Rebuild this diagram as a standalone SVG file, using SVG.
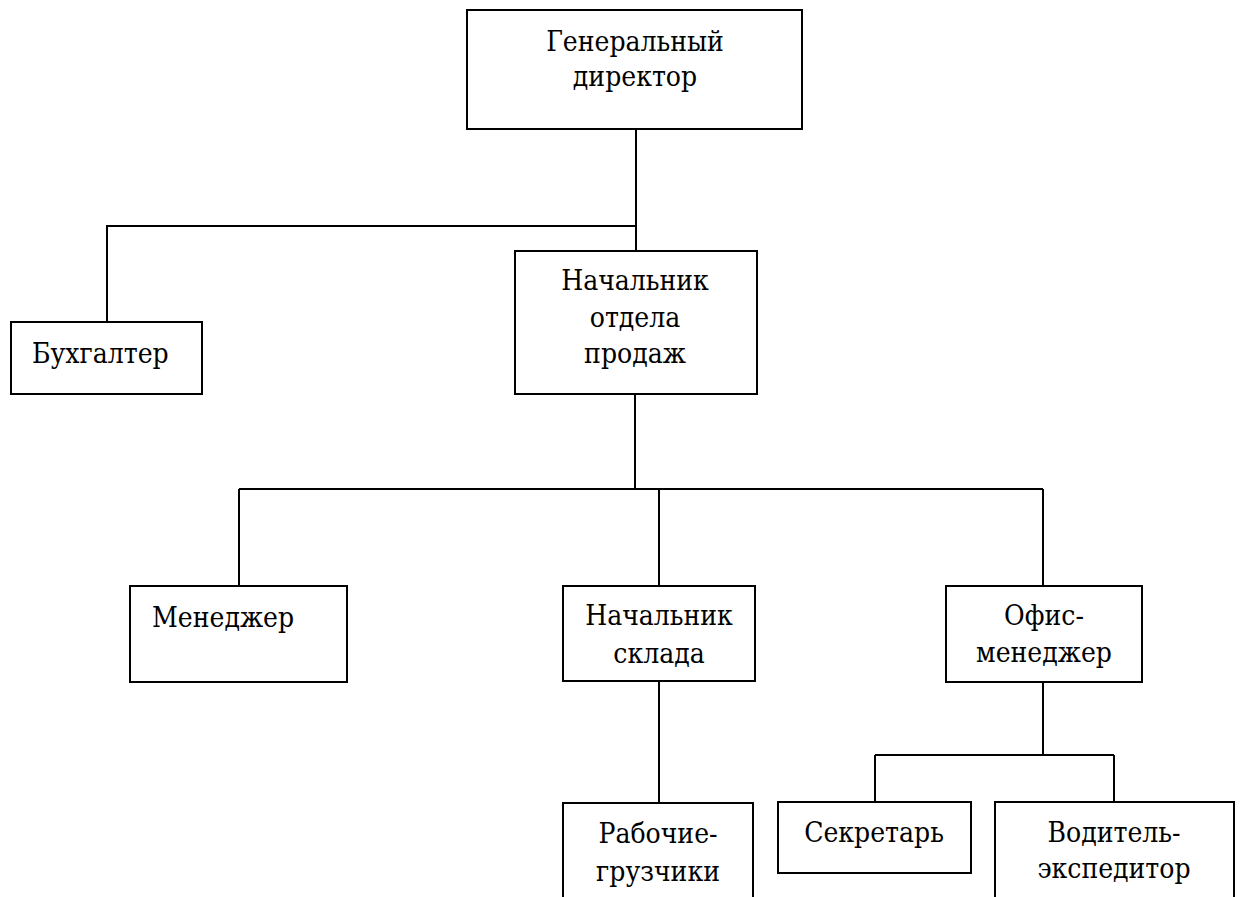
<svg xmlns="http://www.w3.org/2000/svg" width="1243" height="897" viewBox="0 0 1243 897">
<style>
.box{fill:#fff;stroke:#000;stroke-width:2}
.t{font-family:'DejaVu Serif Condensed','DejaVu Serif',serif;font-stretch:condensed;font-size:28px;fill:#000}
.c{text-anchor:middle}
.ln{fill:none;stroke:#000;stroke-width:2}
</style>
<rect width="1243" height="897" fill="#fff"/>
<g id="connectors">
<path class="ln" d="M636 129V226H107V322"/>
<path class="ln" d="M636 226V251"/>
<path class="ln" d="M635 394V489"/>
<path class="ln" d="M239 489H1043"/>
<path class="ln" d="M239 489V586"/>
<path class="ln" d="M659 489V586"/>
<path class="ln" d="M1043 489V586"/>
<path class="ln" d="M659 681V803"/>
<path class="ln" d="M1043 682V755"/>
<path class="ln" d="M875 755H1114"/>
<path class="ln" d="M875 755V802"/>
<path class="ln" d="M1114 755V802"/>
</g>
<g id="gen-dir">
<rect class="box" x="467" y="10" width="335" height="119"/>
<text class="t c" x="635" y="51">Генеральный</text>
<text class="t c" x="635" y="86">директор</text>
</g>
<g id="buh">
<rect class="box" x="11" y="322" width="191" height="72"/>
<text class="t" x="32" y="363">Бухгалтер</text>
</g>
<g id="nach-otd">
<rect class="box" x="515" y="251" width="242" height="143"/>
<text class="t c" x="635" y="290">Начальник</text>
<text class="t c" x="635" y="327">отдела</text>
<text class="t c" x="635" y="363">продаж</text>
</g>
<g id="manager">
<rect class="box" x="130" y="586" width="217" height="96"/>
<text class="t" x="152" y="627">Менеджер</text>
</g>
<g id="nach-sklad">
<rect class="box" x="563" y="586" width="192" height="95"/>
<text class="t c" x="659" y="625">Начальник</text>
<text class="t c" x="659" y="663">склада</text>
</g>
<g id="office">
<rect class="box" x="946" y="586" width="196" height="96"/>
<text class="t c" x="1044" y="625">Офис-</text>
<text class="t c" x="1044" y="662">менеджер</text>
</g>
<g id="workers">
<rect class="box" x="563" y="803" width="190" height="110"/>
<text class="t c" x="658" y="843">Рабочие-</text>
<text class="t c" x="658" y="881">грузчики</text>
</g>
<g id="secretary">
<rect class="box" x="778" y="802" width="193" height="71"/>
<text class="t c" x="874" y="842">Секретарь</text>
</g>
<g id="driver">
<rect class="box" x="995" y="802" width="239" height="110"/>
<text class="t c" x="1114" y="842">Водитель-</text>
<text class="t c" x="1114" y="878">экспедитор</text>
</g>
</svg>
